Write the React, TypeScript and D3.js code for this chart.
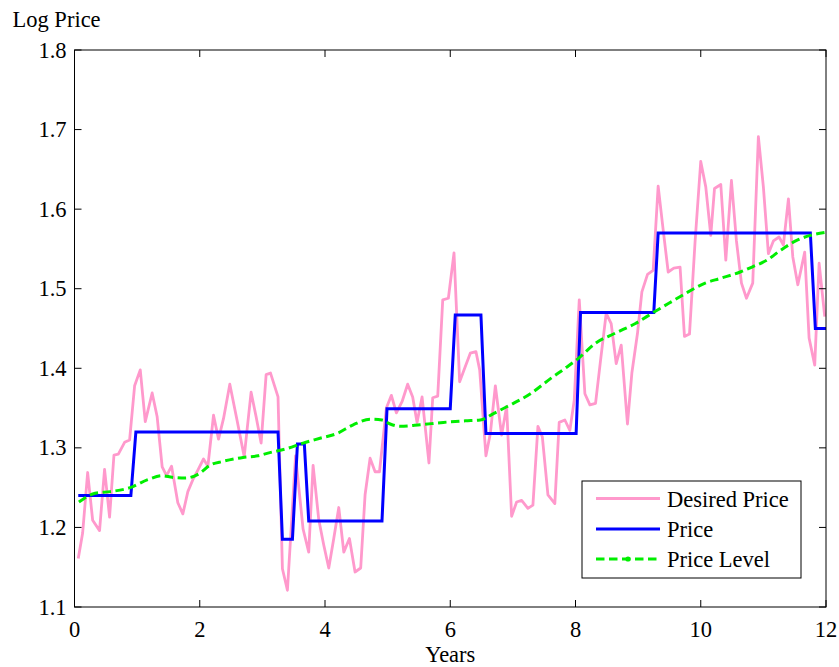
import React from "react";
import * as d3 from "d3";

// ---------- data ----------
const desiredYears = [
  0.06, 0.13, 0.21, 0.29, 0.40, 0.48, 0.56, 0.63, 0.70, 0.80,
  0.88, 0.96, 1.05, 1.13, 1.24, 1.32, 1.40, 1.47, 1.55, 1.65,
  1.73, 1.81, 1.89, 1.97, 2.06, 2.13, 2.22, 2.30, 2.38, 2.48,
  2.59, 2.71, 2.82, 2.90, 2.98, 3.06, 3.13, 3.25, 3.32, 3.40,
  3.53, 3.65, 3.74, 3.81, 3.90, 3.98, 4.06, 4.14, 4.22, 4.30,
  4.39, 4.48, 4.57, 4.64, 4.72, 4.80, 4.87, 4.98, 5.06, 5.14,
  5.23, 5.32, 5.40, 5.47, 5.55, 5.66, 5.72, 5.80, 5.88, 5.97,
  6.06, 6.15, 6.23, 6.32, 6.41, 6.47, 6.57, 6.64, 6.72, 6.82,
  6.90, 6.98, 7.06, 7.14, 7.24, 7.32, 7.40, 7.47, 7.56, 7.67,
  7.74, 7.83, 7.91, 7.98, 8.06, 8.15, 8.23, 8.32, 8.40, 8.49,
  8.57, 8.65, 8.73, 8.83, 8.90, 8.99, 9.06, 9.15, 9.24, 9.32,
  9.40, 9.48, 9.57, 9.67, 9.74, 9.82, 9.91, 10.00, 10.08, 10.16,
  10.22, 10.32, 10.40, 10.49, 10.57, 10.65, 10.73, 10.83, 10.92, 11.00,
  11.08, 11.16, 11.25, 11.32, 11.40, 11.47, 11.55, 11.66, 11.73, 11.82,
  11.89, 11.98,
];
const desiredPrice = [
  1.161, 1.193, 1.269, 1.209, 1.196, 1.273, 1.213, 1.291, 1.292, 1.307,
  1.310, 1.378, 1.398, 1.333, 1.369, 1.339, 1.276, 1.265, 1.277, 1.231,
  1.217, 1.245, 1.260, 1.272, 1.286, 1.277, 1.341, 1.311, 1.337, 1.380,
  1.337, 1.289, 1.370, 1.339, 1.306, 1.392, 1.394, 1.364, 1.148, 1.121,
  1.290, 1.198, 1.169, 1.278, 1.210, 1.178, 1.149, 1.186, 1.225, 1.169,
  1.186, 1.144, 1.149, 1.241, 1.287, 1.270, 1.270, 1.350, 1.366, 1.344,
  1.358, 1.380, 1.364, 1.332, 1.364, 1.281, 1.363, 1.365, 1.486, 1.488,
  1.545, 1.383, 1.400, 1.419, 1.421, 1.398, 1.290, 1.318, 1.378, 1.316,
  1.352, 1.214, 1.232, 1.234, 1.224, 1.228, 1.327, 1.314, 1.241, 1.230,
  1.332, 1.335, 1.322, 1.360, 1.486, 1.368, 1.354, 1.356, 1.410, 1.469,
  1.456, 1.406, 1.429, 1.330, 1.394, 1.444, 1.496, 1.518, 1.523, 1.629,
  1.574, 1.521, 1.526, 1.527, 1.440, 1.443, 1.560, 1.660, 1.628, 1.567,
  1.626, 1.631, 1.536, 1.636, 1.560, 1.507, 1.488, 1.507, 1.691, 1.628,
  1.544, 1.560, 1.565, 1.555, 1.613, 1.540, 1.505, 1.546, 1.438, 1.404,
  1.532, 1.465,
];

const priceYears = [
  0.06, 0.90, 0.98, 3.25, 3.32, 3.48, 3.56, 3.67, 3.74, 4.91, 4.99,
  6.00, 6.08, 6.49, 6.57, 8.01, 8.08, 9.25, 9.32, 11.75, 11.83, 12.0,
];
const priceValues = [
  1.24, 1.24, 1.32, 1.32, 1.185, 1.185, 1.305, 1.305, 1.208, 1.208, 1.349,
  1.349, 1.467, 1.467, 1.318, 1.318, 1.47, 1.47, 1.57, 1.57, 1.45, 1.45,
];

const levelYears = [
  0.07, 0.33, 0.57, 0.89, 1.17, 1.40, 1.56, 1.77, 2.00, 2.16,
  2.37, 2.69, 2.93, 3.12, 3.39, 3.65, 3.92, 4.19, 4.45, 4.72,
  4.91, 5.04, 5.20, 5.52, 5.89, 6.24, 6.48, 6.69, 6.91, 7.28,
  7.60, 7.87, 8.07, 8.31, 8.63, 8.95, 9.24, 9.54, 9.80, 10.07,
  10.31, 10.63, 10.84, 11.06, 11.27, 11.54, 11.75, 12.0,
];
const levelValues = [
  1.232, 1.243, 1.245, 1.250, 1.260, 1.265, 1.263, 1.262, 1.268, 1.278,
  1.283, 1.288, 1.290, 1.294, 1.299, 1.306, 1.312, 1.318, 1.329, 1.336,
  1.335, 1.330, 1.327, 1.329, 1.332, 1.334, 1.335, 1.343, 1.352, 1.368,
  1.387, 1.402, 1.414, 1.431, 1.444, 1.456, 1.470, 1.484, 1.496, 1.507,
  1.513, 1.521, 1.528, 1.536, 1.548, 1.561, 1.567, 1.571,
];

const xTicks = [0, 2, 4, 6, 8, 10, 12];
const yTicks = [1.1, 1.2, 1.3, 1.4, 1.5, 1.6, 1.7, 1.8];
const legendLabels = ["Desired Price", "Price", "Price Level"];

// ---------- layout ----------
const W = 839;
const H = 667;
const left = 74.5;
const right = 826;
const top = 50;
const bottom = 607;
const FONT = "'Liberation Serif', 'Times New Roman', serif";
const FS = 22.5;
const PINK = "#ff99cc";
const BLUE = "#0000ff";
const GREEN = "#00ee00";

export default function App() {
  const x = d3.scaleLinear().domain([0, 12]).range([left, right]);
  const y = d3.scaleLinear().domain([1.1, 1.8]).range([bottom, top]);

  const line = d3
    .line<[number, number]>()
    .x((d) => x(d[0]))
    .y((d) => y(d[1]));
  const smooth = d3
    .line<[number, number]>()
    .x((d) => x(d[0]))
    .y((d) => y(d[1]))
    .curve(d3.curveMonotoneX);

  const desired = desiredYears.map((t, i) => [t, desiredPrice[i]] as [number, number]);
  const price = priceYears.map((t, i) => [t, priceValues[i]] as [number, number]);
  const level = levelYears.map((t, i) => [t, levelValues[i]] as [number, number]);

  const tickLen = 7;
  const lg = { x0: 582, y0: 481, x1: 801, y1: 578 };
  const legendRows = [498.5, 529, 559];
  const legendColors = [PINK, BLUE, GREEN];

  return (
    <svg
      width={W}
      height={H}
      style={{ position: "absolute", left: 0, top: 0, background: "#fff" }}
      fontFamily={FONT}
    >
      <rect x={0} y={0} width={W} height={H} fill="#fff" />
      <defs>
        <clipPath id="plotClip">
          <rect x={left} y={top} width={right - left} height={bottom - top} />
        </clipPath>
      </defs>

      {/* data lines */}
      <g clipPath="url(#plotClip)">
        <path d={line(desired) || ""} fill="none" stroke={PINK} strokeWidth={2.8} strokeLinejoin="round" />
        <path d={line(price) || ""} fill="none" stroke={BLUE} strokeWidth={3} strokeLinejoin="miter" />
        <path d={smooth(level) || ""} fill="none" stroke={GREEN} strokeWidth={3} strokeDasharray="8.5,4.5" />
      </g>

      {/* axes box */}
      <rect x={left} y={top} width={right - left} height={bottom - top} fill="none" stroke="#000" strokeWidth={1} />

      {/* x ticks */}
      {xTicks.map((t) => (
        <g key={"x" + t}>
          <line x1={x(t)} x2={x(t)} y1={bottom} y2={bottom - tickLen} stroke="#000" strokeWidth={1} />
          <line x1={x(t)} x2={x(t)} y1={top} y2={top + tickLen} stroke="#000" strokeWidth={1} />
          <text x={x(t)} y={bottom + 30} textAnchor="middle" fontSize={FS} fill="#000">
            {t}
          </text>
        </g>
      ))}

      {/* y ticks */}
      {yTicks.map((v) => (
        <g key={"y" + v}>
          <line x1={left} x2={left + tickLen} y1={y(v)} y2={y(v)} stroke="#000" strokeWidth={1} />
          <line x1={right} x2={right - tickLen} y1={y(v)} y2={y(v)} stroke="#000" strokeWidth={1} />
          <text x={left - 8} y={y(v) + 7.5} textAnchor="end" fontSize={FS} fill="#000">
            {d3.format(".1f")(v)}
          </text>
        </g>
      ))}

      {/* axis titles */}
      <text x={12.5} y={27} fontSize={FS} fill="#000">Log Price</text>
      <text x={(left + right) / 2} y={662} textAnchor="middle" fontSize={FS} fill="#000">Years</text>

      {/* legend */}
      <rect x={lg.x0} y={lg.y0} width={lg.x1 - lg.x0} height={lg.y1 - lg.y0} fill="#fff" stroke="#000" strokeWidth={1} />
      {legendLabels.map((lab, i) => (
        <g key={lab}>
          <line
            x1={596}
            x2={660}
            y1={legendRows[i]}
            y2={legendRows[i]}
            stroke={legendColors[i]}
            strokeWidth={3}
            strokeDasharray={i === 2 ? "8.5,4.5" : undefined}
          />
          {i === 2 && <circle cx={628} cy={legendRows[i]} r={2.6} fill={GREEN} />}
          <text x={667} y={legendRows[i] + 8} fontSize={FS} fill="#000">
            {lab}
          </text>
        </g>
      ))}
    </svg>
  );
}
